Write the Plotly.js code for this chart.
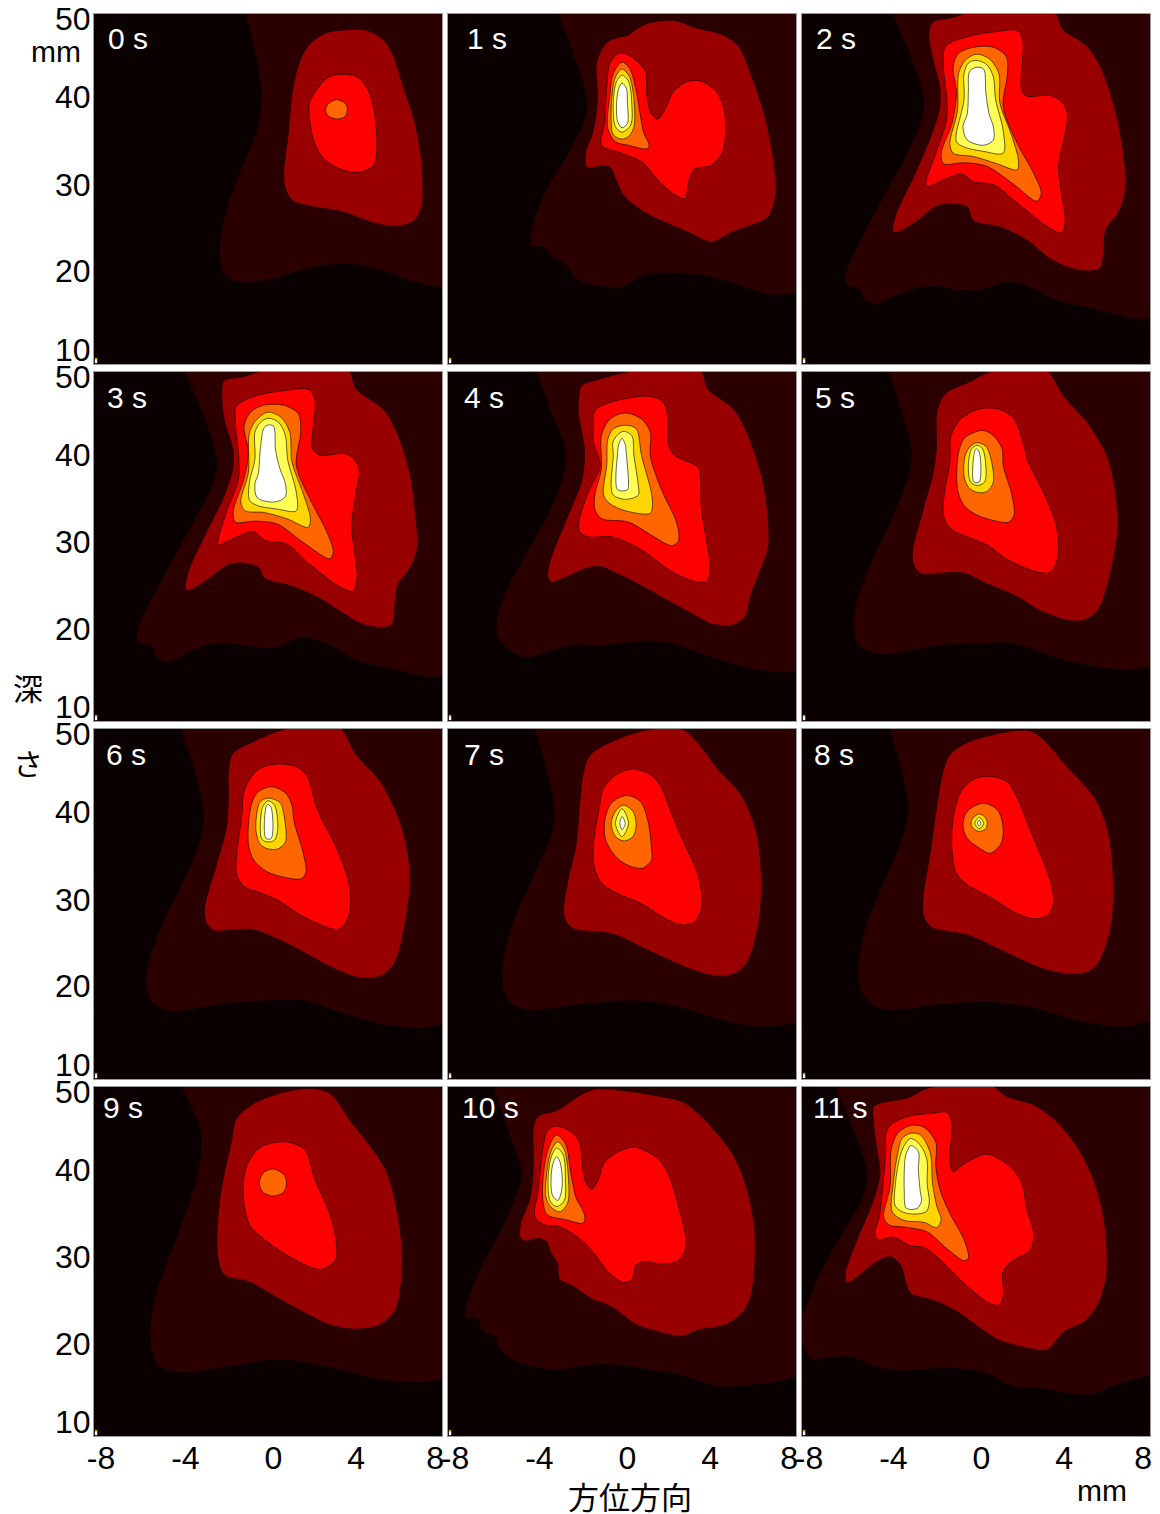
<!DOCTYPE html>
<html><head><meta charset="utf-8">
<script src="https://cdn.plot.ly/plotly-3.0.1.min.js"></script>
<style>html,body{margin:0;padding:0;background:#fff}</style></head>
<body><div id="chart" style="width:1160px;height:1514px"></div>
<script>
// contour outlines in mm (azimuth, depth)
const t0_L1=[[-1,50],[-.5,44.7],[-.3,40.1],[-.5,36.7],[-1.3,31.8],[-1.9,27.6],[-2.2,23.8],[-2.1,20.7],[-1.75,19.7],[-1,19.3],[.25,19.8],[1.8,20.9],[3.5,21.5],[5,20.9],[6.5,19.6],[8,18.7],[8.6,18.5],[9.5,30],[9.5,52],[-1.2,52]];
const t0_L2=[[3.5,48.1],[4.5,48.1],[5.3,47],[5.7,45.5],[6.2,41.7],[6.7,37.9],[7,34.1],[7.1,30.2],[7.05,28],[6.7,26.4],[5.9,25.8],[4.85,26.2],[3.3,27.5],[1.9,28.1],[1.15,28.7],[.8,30.2],[.75,32.1],[.95,36.3],[1.15,41.3],[1.5,44.7],[1.95,46.6],[2.7,47.8]];
const t0_L3=[[3.4,43.1],[4.1,42.8],[4.6,41.3],[4.9,38.6],[5,34.4],[4.85,32.7],[4.15,31.9],[3.3,32.3],[2.55,33.5],[2.15,35.2],[1.95,37.3],[1.9,39.8],[2.4,41.9],[2.8,42.8]];
const t0_L4=[[3.15,40.2],[3.55,39.8],[3.65,39.1],[3.55,38.3],[3.15,38],[2.75,38.4],[2.65,39.1],[2.8,39.8]];

const t1_L1=[[-2.9,50],[-2.3,45.9],[-1.7,41.5],[-1.6,39],[-2.3,34.8],[-3.4,30.3],[-4.1,25.7],[-4.15,23.6],[-3.55,23.4],[-3.15,22.1],[-2.7,21.7],[-2.1,19.8],[-1.25,19],[0,18.8],[1.05,20.2],[2.6,20.4],[4.1,20],[5.65,18.8],[6.9,17.9],[8,18.1],[8.6,18.2],[9.5,30],[9.5,52],[-3.1,52]];
const t1_L2=[[1.6,49.1],[2.45,49.2],[3.35,48.4],[4.6,47.6],[5.35,46.3],[5.95,42.8],[6.55,38.3],[6.95,33.3],[7.05,29.5],[6.7,26.8],[5.95,25.9],[5.05,25.1],[4.1,24],[3.05,25.1],[1.65,26.6],[.9,27.6],[.15,29.1],[-.25,31],[-.5,32.4],[-.8,32.7],[-1.6,32.5],[-1.65,34.1],[-1.3,36.7],[-1.1,40.6],[-1.15,44.4],[-.65,46.8],[.3,47.6],[.9,48.6]];
const t1_L3=[[-.15,45.5],[.3,45.3],[1.05,43.6],[1.15,40.6],[1.35,38.6],[1.65,38],[2,39.2],[2.35,41.1],[3.05,42.3],[3.65,42.3],[4.35,41.1],[4.7,39],[4.75,36],[4.6,34.1],[4.1,32.7],[3.3,32.2],[3.05,30.6],[2.9,28.9],[2.6,29.1],[1.8,30.6],[.9,33.1],[-.15,34.2],[-.95,35],[-.8,37.5],[-.7,41.7],[-.55,44.4]];
const t1_L4=[[0,44.5],[.35,43.8],[.65,41.3],[.85,38.3],[1,36.4],[1.25,35],[1.15,34.6],[.3,35],[-.3,35.4],[-.65,36.9],[-.55,40.9],[-.4,43.2]];
const t1_L5=[[0,43.7],[.35,42.8],[.55,40.2],[.55,37.1],[.3,36],[0,35.7],[-.4,36.2],[-.5,37.9],[-.45,40.9],[-.3,42.8]];
const t1_L6=[[0,43],[.3,42.3],[.45,39.8],[.4,37.3],[0,36.5],[-.3,37.1],[-.4,39.8],[-.25,42.3]];
const t1_L7=[[0,42.1],[.2,41.5],[.25,39.8],[.25,37.5],[0,37],[-.2,37.7],[-.25,39.8],[-.15,41.5]];

const t2_L1=[[-3.8,50],[-3,45.1],[-2.4,40.6],[-2.5,37.9],[-3.15,34.1],[-4.4,28.4],[-5.45,23.4],[-6,20],[-5.9,19],[-5.3,18.5],[-5.1,17.3],[-4.55,16.9],[-3.65,17.9],[-2.85,18.6],[-1.95,18.9],[-.85,18.5],[.2,18.5],[1.4,19.4],[2.5,18.8],[3.7,17.3],[5.7,16.2],[7.55,15.1],[8,15.4],[8.6,15.6],[9.5,30],[9.5,52],[-4,52]];
const t2_L2=[[-1.95,49.1],[-1.2,49.5],[0,50.3],[3.5,50.5],[4,48.2],[5.1,46.3],[5.7,44],[6.3,39.8],[6.7,35.2],[6.85,31.8],[6.8,29.1],[6.5,27.2],[5.95,25.3],[5.85,22.6],[5.65,20.9],[4.5,20.9],[3.4,22.1],[2.35,24.2],[1.1,25.7],[-.1,26.4],[-.4,28],[-1.7,28.2],[-2.7,26.4],[-3.5,25.2],[-3.8,25.1],[-3.7,26.8],[-2.7,32.2],[-1.95,36.7],[-1.65,39.4],[-1.65,41.7],[-1.95,44.7],[-2.15,47.8]];
const t2_L3=[[-1.4,46.3],[-.4,47.4],[.95,48],[1.9,48.1],[2.15,47],[2.1,41.3],[2.35,40.6],[3.4,40.7],[4,39.8],[4.2,38.6],[4.1,36.4],[3.8,32.6],[3.95,29.1],[4.1,26.5],[3.95,25],[3.4,25.5],[1.9,28.4],[.8,30.5],[-.1,30.8],[-.65,31.7],[-1.35,31.2],[-2.25,30.3],[-2.3,30.8],[-1.8,34.4],[-1.35,37.9],[-1.35,40.6],[-1.5,44]];
const t2_L4=[[-.1,46.2],[.8,46.2],[1.4,45.1],[1.45,43.2],[1.25,39.4],[1.9,35.2],[2.65,31.8],[3,29.5],[2.8,28.6],[1.75,30.5],[.5,32.6],[-.55,33],[-1.5,32.9],[-1.6,34.1],[-1.1,37.5],[-.9,40.9],[-1.05,44],[-.8,45.5]];
const t2_L5=[[0,45.4],[.6,44.9],[1.05,43.2],[1.1,39.8],[1.6,36.4],[1.95,33.3],[1.9,32.2],[.95,32.9],[-.1,33.7],[-1.05,34.1],[-1.2,35.2],[-.85,39],[-.8,43.2],[-.5,44.7]];
const t2_L6=[[0,44.7],[.5,44.2],[.8,42.8],[.9,40.2],[1.25,36.7],[1.25,34.1],[.35,34.3],[-.55,34.8],[-.9,35.4],[-.9,36.4],[-.55,40.2],[-.55,43.2],[-.35,44.4]];
const t2_L7=[[0,43.9],[.35,43.7],[.45,41.1],[.6,38.6],[.8,37.1],[.8,35.6],[.35,35],[-.4,35.6],[-.6,37.1],[-.4,38.6],[-.35,41.3],[-.3,43.4]];

const t3_L1=[[-3.8,50],[-2.95,45],[-2.35,40],[-2.5,37.4],[-3.25,33.6],[-4.5,27.9],[-5.5,23.3],[-6,20.3],[-5.95,19.1],[-5.35,18.6],[-5.1,17.3],[-4.6,16.8],[-3.6,18],[-2.8,18.7],[-2,18.9],[-.85,18.6],[.25,18.4],[1.6,19.6],[2.85,18.7],[4.05,17],[5.9,15.9],[7.65,15],[8,15.3],[8.6,15.5],[9.5,30],[9.5,52],[-4,52]];
const t3_L2=[[-2,49],[-1.15,49.4],[.1,50.3],[3.6,50.5],[4.05,48],[5.3,45.7],[5.9,43.1],[6.5,38.5],[6.75,33.9],[6.85,29.8],[6.5,27.5],[5.95,25.6],[5.8,22.9],[5.65,21],[4.5,21],[3.45,22.4],[2.4,24.1],[1,25.6],[-.15,26.4],[-.45,27.7],[-1.65,28.1],[-2.65,26.5],[-3.45,25.2],[-3.75,25.1],[-3.65,27.1],[-2.8,31.7],[-2.05,35.5],[-1.6,38.9],[-1.6,41.2],[-2,44.6],[-2.1,47.6]];
const t3_L3=[[-1.45,46.1],[-.5,47.3],[.85,47.9],[1.85,48],[2.15,46.9],[2.05,41.2],[2.35,40.5],[3.6,40.6],[4.05,39.7],[4.2,38.5],[4.05,36.2],[3.85,32.4],[4,29],[4.1,26.4],[3.9,24.9],[3.3,25.4],[1.95,27.9],[.85,30.3],[-.15,30.7],[-.65,31.7],[-1.45,31.1],[-2.3,30.2],[-2.3,30.7],[-1.9,34],[-1.35,37.8],[-1.35,40.4],[-1.5,44.2]];
const t3_L4=[[-.2,46.2],[.7,46.2],[1.4,45.2],[1.5,43.1],[1.3,39.3],[2,35.1],[2.7,31.7],[3,29.4],[2.85,28.6],[1.6,30.5],[.4,32.6],[-.65,32.9],[-1.5,32.8],[-1.6,34],[-1.1,37.8],[-.9,40.8],[-1.1,43.8],[-.8,45.4]];
const t3_L5=[[0,45.4],[.6,44.8],[1,43.1],[1.1,39.7],[1.6,36.2],[1.95,33.2],[1.85,32.2],[.85,33.2],[-.2,33.9],[-1.05,34.1],[-1.25,35.1],[-.9,38.5],[-.85,43.1],[-.5,44.6]];
const t3_L6=[[0,44.7],[.5,44.2],[.8,42.7],[.9,40],[1.3,36.2],[1.3,34.1],[.4,34.3],[-.5,34.7],[-.85,35.3],[-.85,37.4],[-.6,40],[-.6,43.1],[-.35,44.2]];
const t3_L7=[[-.05,43.9],[.25,43.8],[.35,41],[.55,38.9],[.8,37.2],[.8,35.7],[.3,35.1],[-.5,35.6],[-.6,37.2],[-.45,38.3],[-.35,41.2],[-.2,43.5]];

const t4_L1=[[-3.9,50],[-3.25,45.4],[-2.6,41.2],[-2.65,38.5],[-3.4,33.6],[-4.45,29],[-5.4,24.4],[-5.75,21.4],[-5.75,19.9],[-5.3,18.4],[-4.45,17.3],[-3.55,17.8],[-2.3,18.7],[-.8,18.7],[1.05,19.2],[2.3,18.9],[3.8,17.6],[5.65,16.2],[7.2,15.6],[8,15.7],[8.6,15.8],[9.5,30],[9.5,52],[-4.1,52]];
const t4_L2=[[-1.85,48.4],[-.95,49.2],[.6,50.1],[3.5,50.5],[3.95,48],[5.05,45.9],[5.65,43.5],[6.4,38.1],[6.7,33.2],[6.7,29.8],[6.25,26.7],[5.9,24.4],[5.65,22],[5.05,21],[4.1,21.2],[3.2,22.4],[1.65,24.5],[.15,26.5],[-1.1,27.8],[-1.7,27.5],[-2.6,26.5],[-3.25,26],[-3.4,26.7],[-3.25,28.6],[-2.45,33.6],[-1.85,37.4],[-1.7,40.8],[-2,45.7],[-1.95,47.3]];
const t4_L3=[[-1.25,45.6],[-.3,46.7],[1.35,47.2],[1.9,46.5],[2.1,45],[2.15,41.6],[2.45,40.4],[3.5,39.1],[3.6,38.1],[3.65,34.3],[3.9,30.5],[4.05,27.5],[3.9,26],[3.35,26],[2.3,27.1],[.9,29.6],[-.45,31.1],[-1.55,31.1],[-1.95,31.7],[-2,32.6],[-1.55,36.2],[-1,39.3],[-1.3,41.9],[-1.3,44.2]];
const t4_L4=[[.15,45.3],[.9,44.6],[1.3,43.1],[1.3,40.4],[1.8,36.6],[2.5,32.8],[2.6,30.7],[2.3,30.1],[1.35,31.3],[.3,32.8],[-.95,33.2],[-1.25,34.3],[-1.25,35.9],[-.95,38.9],[-.95,42.7],[-.55,44.6]];
const t4_L5=[[.15,43.9],[.65,43.5],[.9,40.4],[1.35,36.2],[1.4,34.7],[1.3,33.8],[.15,34.1],[-.55,34.9],[-.85,35.9],[-.7,39.3],[-.65,42.3],[-.4,43.5]];
const t4_L6=[[.05,43.2],[.45,42.7],[.55,40.4],[.75,37],[.75,35.9],[.15,35.4],[-.4,35.9],[-.5,37],[-.4,40.4],[-.4,42.1]];
const t4_L7=[[0,42.4],[.15,41.7],[.2,40.6],[.3,37],[.25,36.5],[-.2,36.5],[-.2,40.8],[-.15,41.7]];

const t5_L1=[[-4,50],[-3.4,45.4],[-2.95,40.8],[-3.1,38.1],[-3.8,33.6],[-4.85,27.9],[-5.55,22.9],[-5.6,20.6],[-5.4,18.7],[-4.7,17.8],[-3.9,17.7],[-1.95,18.6],[.05,18.9],[1.75,18.9],[3.55,17.4],[5.4,16.3],[6.95,15.9],[8,16.2],[8.6,16.4],[9.5,30],[9.5,52],[-4.2,52]];
const t5_L2=[[-1.65,46.5],[-1.35,47.6],[-.4,48.7],[.8,50.1],[3.1,50.5],[4.05,47.1],[5.1,44.2],[6,40.4],[6.4,36.2],[6.5,32.1],[6.3,28.6],[5.85,24.1],[5.5,22.5],[4.95,21.6],[4.2,21.6],[2.95,22.7],[1.75,24.5],[.5,25.8],[-.55,27],[-1.65,27],[-2.5,26.9],[-2.85,27.9],[-2.9,29.4],[-2.4,34.3],[-1.95,38.5],[-1.8,41.2],[-1.8,45]];
const t5_L3=[[.2,45.8],[1.1,45.7],[1.75,44.6],[2.2,41.6],[2.4,39.7],[3.1,36.2],[3.65,32.8],[3.8,30.1],[3.7,28.2],[3.35,27],[2.65,27.2],[1.4,28.6],[.5,30.2],[-.4,31.1],[-1.2,32.1],[-1.5,33.6],[-1.45,36.2],[-1.2,39.7],[-1.15,42.7],[-.7,44.6]];
const t5_L4=[[.3,43.3],[.8,42.7],[1.2,41.2],[1.25,39.3],[1.65,35.9],[1.75,33.6],[1.5,32.8],[.95,32.9],[.05,33.6],[-.55,34.7],[-.85,36.6],[-.8,40.8],[-.5,42.5]];
const t5_L5=[[.05,41.9],[.45,41.5],[.65,40.4],[.8,37.4],[.5,36.3],[.05,36.2],[-.35,36.8],[-.55,38.1],[-.5,40.4],[-.25,41.5]];
const t5_L6=[[.05,41.6],[.3,41.2],[.45,39.3],[.4,37.4],[.05,37],[-.25,37.4],[-.35,39.3],[-.2,41.2]];
const t5_L7=[[0,41.2],[.15,40.8],[.15,37.4],[-.1,37.4],[-.1,40.4]];

const t6_L1=[[-4,50],[-3.35,45.1],[-2.95,40.6],[-3.05,37.9],[-3.75,33.3],[-4.8,28],[-5.5,23.1],[-5.6,20.8],[-5.35,18.9],[-4.75,17.9],[-4.1,17.8],[-2.05,18.6],[.1,19],[1.6,19],[3.6,17.4],[5.45,16.2],[7,15.9],[8,16.2],[8.6,16.4],[9.5,30],[9.5,52],[-4.2,52]];
const t6_L2=[[-1.8,45.1],[-1.6,47.2],[-.5,48.7],[.85,50],[3.15,50.5],[4.05,47],[5.15,44],[6.05,39.4],[6.45,35.2],[6.5,31.8],[6.3,28],[5.85,23.5],[5.4,22.1],[4.85,21.6],[4.05,21.7],[2.85,22.9],[1.6,24.6],[.4,26.1],[-.65,27.1],[-1.6,27.1],[-2.45,27],[-2.8,27.8],[-2.9,29.4],[-2.35,34.5],[-1.9,38.7],[-1.8,42.1]];
const t6_L3=[[.55,46],[1.3,45.7],[1.8,44.6],[2.2,41.3],[2.45,39.8],[3.15,36.4],[3.7,32.6],[3.8,29.9],[3.6,28],[3.2,27.1],[2.55,27.5],[1.45,28.8],[.55,30.3],[-.35,31.3],[-1.1,32],[-1.45,33.5],[-1.4,36.4],[-1.2,40.2],[-1.1,42.9],[-.65,44.9],[-.2,45.7]];
const t6_L4=[[.15,43.4],[.8,42.7],[1.1,41.3],[1.2,39.4],[1.6,36],[1.75,33.7],[1.55,32.9],[.85,33],[-.05,33.7],[-.65,35],[-.9,36.8],[-.8,41],[-.5,42.7]];
const t6_L5=[[0,42.1],[.55,41.6],[.7,40.6],[.8,37.1],[.45,36.3],[0,36.3],[-.35,36.8],[-.55,38.3],[-.5,40.6],[-.35,41.7]];
const t6_L6=[[0,41.8],[.3,41.3],[.45,38.7],[.3,37.3],[-.05,37.1],[-.3,37.5],[-.3,40.6],[-.2,41.3]];
const t6_L7=[[0,41.4],[.15,41],[.15,37.5],[-.1,37.5],[-.1,41]];

const t7_L1=[[-4,50],[-3.45,45.1],[-3.1,40.6],[-3.25,37.9],[-4.05,33.3],[-5.1,27.2],[-5.5,22.3],[-5.4,20],[-5,18.5],[-4.2,17.9],[-2.1,18.5],[.6,19],[2.7,18.2],[4.8,16.6],[6.45,16],[8,16.4],[8.6,16.6],[9.5,30],[9.5,52],[-4.2,52]];
const t7_L2=[[-1.75,45.1],[-1.45,47],[-.4,48.6],[1.25,49.9],[2.8,49.9],[3.55,48.2],[4.35,45.5],[5.45,42.5],[6.15,38.3],[6.4,32.6],[6.25,27.6],[5.75,23.4],[5.2,22.1],[4.4,21.8],[3.15,22.6],[1.25,24.7],[-.4,26.6],[-2.3,27.3],[-2.65,28.7],[-2.5,32.2],[-2.1,36.7],[-1.9,42.1]];
const t7_L3=[[.4,45.4],[1.25,44.9],[1.75,43.6],[2.3,40.2],[2.9,36.7],[3.45,33.7],[3.65,31.4],[3.65,29.5],[3.35,28],[2.8,27.6],[2.1,28.2],[.85,30.1],[-.2,31.2],[-.95,32.4],[-1.3,34.5],[-1.3,37.1],[-1.05,40.9],[-.85,43.2],[-.3,44.7]];
const t7_L4=[[.2,42.4],[.85,41.7],[1.2,39.4],[1.35,36.4],[1.35,35],[.95,34.1],[.4,34.3],[-.2,35.2],[-.75,37.3],[-.8,39.4],[-.5,41.5]];
const t7_L5=[[.05,41.3],[.5,40.6],[.65,39],[.5,37.7],[.1,37.2],[-.3,37.7],[-.5,39.2],[-.3,40.6]];
const t7_L6=[[0,40.9],[.3,39.2],[0,37.7],[-.3,39.2]];
const t7_L7=[[0,40],[.15,39.2],[0,38.5],[-.1,39.2]];

const t8_L1=[[-3.95,50],[-3.4,45.1],[-3.1,40.6],[-3.4,37.5],[-4.2,32.6],[-5.05,27.6],[-5.4,22.6],[-5.25,20],[-4.75,18.5],[-3.9,17.9],[-1.85,18.5],[.45,18.8],[2.35,18.3],[4.85,16.6],[6.7,16],[8,16.6],[8.6,16.8],[9.5,30],[9.5,52],[-4.15,52]];
const t8_L2=[[-1.5,45.1],[-1.2,47],[-.4,48.4],[2.35,49.8],[3.05,48.9],[4.1,45.9],[5.45,42.1],[6.05,38.3],[6.3,32.6],[6.2,27.6],[5.65,23.4],[5.15,22.3],[4.4,22],[3.15,22.6],[1.3,24.6],[-.4,26.5],[-2.05,27.4],[-2.4,28.7],[-2.4,31],[-2.05,36.4],[-1.75,41.7]];
const t8_L3=[[.55,44.6],[1.4,44],[1.9,42.1],[2.45,38.7],[3.15,34.5],[3.5,31.9],[3.55,29.9],[3.25,28.7],[2.75,28.3],[1.9,28.9],[.65,30.8],[-.4,32.2],[-.9,33.5],[-1.1,36],[-1.05,39.8],[-.7,42.8],[-.15,44.2]];
const t8_L4=[[.35,41.5],[1,40.7],[1.25,38.6],[1.15,36.9],[.65,35.8],[.15,36.4],[-.4,37.5],[-.6,39],[-.4,40.6]];
const t8_L5=[[.15,40.3],[.5,39.6],[.45,38.6],[.1,38.3],[-.2,38.9],[-.2,39.6]];
const t8_L6=[[.15,39.9],[.35,39.2],[.15,38.6],[-.05,39.2]];
const t8_L7=[[.15,39.6],[.22,39.2],[.15,38.9],[.07,39.2]];

const t9_L1=[[-3.95,50],[-3.1,45.1],[-3.2,40.3],[-4.05,33.7],[-5.2,25.7],[-5.4,21.1],[-5.05,18.2],[-4.05,17.3],[-1.75,18],[.55,18.8],[2.85,17.9],[5.15,16.5],[7,16.2],[8,16.5],[8.6,16.7],[9.5,30],[9.5,52],[-4.15,52]];
const t9_L2=[[-1.65,43.9],[-1.45,46.3],[-.7,48],[.5,49.2],[1.95,49.8],[2.85,49.2],[3.75,46.2],[5.4,40.5],[6.05,33.7],[6.15,29.1],[5.85,24.5],[5.15,22.8],[4,22.3],[2.85,22.8],[1,25.1],[-.85,27.7],[-2,28.5],[-2.3,30.8],[-2.2,37.1],[-1.85,41.7]];
const t9_L3=[[.8,43.7],[1.7,42.8],[2.15,39.4],[2.85,35.4],[3.15,31.9],[3.1,30.2],[2.4,29.1],[1.25,30.2],[-.15,32.5],[-.85,34.2],[-1.15,38.2],[-.95,41.1],[-.35,43.1]];
const t9_L4=[[.25,40.6],[.75,39.9],[.85,38.9],[.7,37.9],[.2,37.5],[-.25,38],[-.4,39],[-.2,40.2]];

const t10_L1=[[-5.9,50],[-5.2,44.7],[-4.6,40.1],[-4.9,37.4],[-5.65,33.2],[-6.6,28.7],[-7.2,24.5],[-7.2,23.6],[-6.6,23.3],[-6.4,22],[-5.85,21.4],[-5.6,19.9],[-4.9,18.6],[-3.7,17.8],[-3.1,17.5],[-1.7,18.1],[-.3,18.2],[1.35,17.6],[2.9,16.9],[4.4,15.7],[5.65,15.8],[7.2,16.3],[8,16.8],[8.6,17],[9.5,30],[9.5,52],[-6.1,52]];
const t10_L2=[[-4.05,45.4],[-3.85,46.6],[-2.95,47.3],[-2,48.9],[-1.25,49.7],[.15,49.5],[1.65,48.9],[2.9,48.1],[4.1,45.4],[5.05,42.4],[5.65,39],[6.05,34.4],[6.1,30.6],[5.9,26],[5.5,24.1],[4.75,22.8],[3.5,22.2],[2.75,21.5],[1.65,22],[.6,22.9],[-.5,24.9],[-1.4,25.8],[-2.3,27.3],[-2.85,28],[-2.95,29.8],[-3.25,31],[-3.45,32.3],[-3.85,32.7],[-4.45,32.4],[-4.65,32.7],[-4.65,34.2],[-4.2,37.4],[-4.05,41.2]];
const t10_L3=[[-3.1,45.5],[-2.55,45.2],[-1.95,43.7],[-1.85,41.6],[-1.7,39.3],[-1.4,38.3],[-1.1,39.3],[-.8,41.4],[-.15,42.6],[.6,43.1],[1.65,41.8],[2.15,39.9],[2.6,36.3],[2.9,33.2],[2.9,31.3],[2.5,30],[1.8,29.7],[1.05,30],[.65,29.6],[.45,27.9],[.05,27.6],[-.65,28.9],[-1.4,31.3],[-2.1,32.9],[-2.9,34],[-3.55,34.2],[-4,35.1],[-3.85,38.2],[-3.6,43.5],[-3.45,44.9]];
const t10_L4=[[-3,44.5],[-2.6,43.5],[-2.35,40.1],[-2.1,37.2],[-1.85,36.1],[-1.7,35],[-1.8,34.4],[-2.6,34.8],[-3.45,35.4],[-3.65,37.4],[-3.55,41.2],[-3.3,43.5]];
const t10_L5=[[-2.95,43.7],[-2.65,42.8],[-2.45,39],[-2.5,36.7],[-2.85,35.7],[-3.25,36.2],[-3.5,37.4],[-3.4,41.2],[-3.2,43]];
const t10_L6=[[-3,43],[-2.7,42.2],[-2.6,39.3],[-2.65,37],[-3,36.3],[-3.3,36.9],[-3.4,39.3],[-3.25,42]];
const t10_L7=[[-3,42],[-2.85,41.4],[-2.75,38.6],[-2.95,37],[-3.2,37.6],[-3.25,40.1],[-3.15,41.4]];

const t11_L1=[[-6.45,50],[-5.75,45.8],[-5,40.1],[-5.25,37],[-6.05,33.6],[-7.15,28.7],[-8,23.9],[-8.6,22.5],[-8,20.7],[-7.55,18.8],[-6.85,19],[-5.8,19.1],[-4.55,18],[-3.5,17.5],[-2.25,17.7],[-.9,17.8],[.5,17.2],[1.75,15.7],[2.95,15.5],[4.65,14.8],[5.4,14.8],[6.5,15.9],[8,16.9],[8.6,17.1],[9.5,30],[9.5,52],[-6.6,52]];
const t11_L2=[[-4.7,47.7],[-4.4,48.1],[-3.15,48.7],[-2.25,49.8],[-1.2,50.2],[.65,50.2],[1.4,48.9],[2.65,47.9],[3.7,46],[4.65,43.1],[5.4,39.3],[5.85,35.1],[6,31.3],[5.95,27.9],[5.55,24.9],[4.95,23.1],[4.05,22],[3.25,19.9],[2.5,20.1],[1.1,21],[.2,22.4],[-.85,24.3],[-1.95,25.6],[-3,26.4],[-3.2,27.5],[-3.45,29.6],[-3.95,30.6],[-4.7,29.8],[-5.45,28.3],[-5.9,27.6],[-6,28.5],[-5.45,32.5],[-4.7,37],[-4.4,40.1],[-4.55,43.1],[-4.7,46.2]];
const t11_L3=[[-3.95,45.6],[-3.15,46.6],[-1.95,47],[-1.35,47.1],[-1.1,45.8],[-1.2,42],[-1.05,40.3],[-.55,41.2],[.5,42.3],[1.4,41.2],[2.05,39.3],[2.35,35.9],[2.65,33.2],[2.5,31.3],[1.75,30.2],[1.25,28.9],[1.25,26],[1.05,25],[.5,25.4],[-.55,27.5],[-1.65,30.2],[-2.4,31.6],[-3,31.8],[-3.8,32.8],[-4.5,32.5],[-4.65,33.2],[-4.45,35.1],[-4.3,38.2],[-4.15,42.8],[-4.15,44.5]];
const t11_L4=[[-3,45.6],[-2.4,45.4],[-1.85,43.7],[-1.85,40.9],[-1.65,38.2],[-1.2,35.5],[-.55,32.5],[-.35,30.4],[-.55,30.1],[-1.35,31.5],[-2.25,33.4],[-3.15,33.9],[-4,34.2],[-4.25,35.1],[-3.95,38.6],[-3.9,42.8],[-3.6,44.7]];
const t11_L5=[[-3,44.7],[-2.55,44.5],[-2.1,42.4],[-2,39],[-1.8,36.3],[-1.6,34.8],[-1.8,33.9],[-2.4,34.5],[-3.3,34.7],[-3.85,35.7],[-3.8,39],[-3.6,42.4],[-3.4,44.1]];
const t11_L6=[[-3,44.1],[-2.55,43.3],[-2.25,41.6],[-2.25,39],[-2.15,36.7],[-2.3,35.7],[-3.15,35.5],[-3.7,36.3],[-3.7,39],[-3.5,42],[-3.3,43.3]];
const t11_L7=[[-3,43.3],[-2.65,42.6],[-2.65,40.5],[-2.55,37.8],[-2.5,37],[-2.7,36.1],[-3.2,36.1],[-3.3,38.2],[-3.25,42],[-3.15,42.7]];

const panelContours=[
 [t0_L1,t0_L2,t0_L3,t0_L4],
 [t1_L1,t1_L2,t1_L3,t1_L4,t1_L5,t1_L6,t1_L7],
 [t2_L1,t2_L2,t2_L3,t2_L4,t2_L5,t2_L6,t2_L7],
 [t3_L1,t3_L2,t3_L3,t3_L4,t3_L5,t3_L6,t3_L7],
 [t4_L1,t4_L2,t4_L3,t4_L4,t4_L5,t4_L6,t4_L7],
 [t5_L1,t5_L2,t5_L3,t5_L4,t5_L5,t5_L6,t5_L7],
 [t6_L1,t6_L2,t6_L3,t6_L4,t6_L5,t6_L6,t6_L7],
 [t7_L1,t7_L2,t7_L3,t7_L4,t7_L5,t7_L6,t7_L7],
 [t8_L1,t8_L2,t8_L3,t8_L4,t8_L5,t8_L6,t8_L7],
 [t9_L1,t9_L2,t9_L3,t9_L4],
 [t10_L1,t10_L2,t10_L3,t10_L4,t10_L5,t10_L6,t10_L7],
 [t11_L1,t11_L2,t11_L3,t11_L4,t11_L5,t11_L6,t11_L7]
];
const timeLabels=["0 s","1 s","2 s","3 s","4 s","5 s","6 s","7 s","8 s","9 s","10 s","11 s"];
const timeLabelX=[-7.41,-7.18,-7.41,-7.45,-7.31,-7.45,-7.5,-7.31,-7.5,-7.65,-7.4,-7.55];
const timeLabelY=[47.2,47.2,47.2,47.1,47.1,47.1,47.1,47.1,47.1,47.7,47.7,47.7];
const levelColors=["#2b0000","#990000","#ff0000","#ff6600","#ffd500","#ffff55","#ffffff"];
const levelLineWidths=[0,0,0.6,0.6,0.6,0.6,0.6];
const backgroundColor="#0a0000";
const xTickPos=[-7.68,-3.8,0.25,4.05,7.68], xTickText=["-8","-4","0","4","8"];
const yTickPos=[49.4,40.5,30.5,20.6,11.6], yTickText=["50","40","30","20","10"];
const colPx=[[94,442],[448,796],[802,1150]];
const rowPx=[[14,364],[372,721],[729,1079],[1087,1436]];
const W=1160,H=1514,FONT='"Liberation Sans",Arial,sans-serif',CJK='"Noto Sans CJK JP",sans-serif';

const traces=[],layout={width:W,height:H,margin:{l:0,r:0,t:0,b:0},paper_bgcolor:"#fff",plot_bgcolor:backgroundColor,showlegend:false,annotations:[],shapes:[]};
panelContours.forEach((levels,i)=>{
  const c=i%3,r=Math.floor(i/3),sfx=i===0?"":String(i+1);
  levels.forEach((pts,k)=>{
    const xs=pts.map(p=>p[0]),ys=pts.map(p=>p[1]);
    xs.push(xs[0]);ys.push(ys[0]);
    traces.push({type:"scatter",mode:"lines",x:xs,y:ys,xaxis:"x"+sfx,yaxis:"y"+sfx,fill:"toself",fillcolor:levelColors[k],
      line:{shape:"spline",smoothing:0.9,color:"#000",width:levelLineWidths[k]},hoverinfo:"skip"});
  });
  layout["xaxis"+sfx]={domain:[colPx[c][0]/W,colPx[c][1]/W],range:[-8,8],anchor:"y"+sfx,showgrid:false,zeroline:false,showline:true,mirror:true,linecolor:"#9a9a9a",linewidth:1,ticks:"",ticklabelstandoff:-6,
    tickmode:"array",tickvals:r===3?xTickPos:[],ticktext:r===3?xTickText:[],tickangle:0,tickfont:{family:FONT,size:32,color:"#000"},fixedrange:true};
  layout["yaxis"+sfx]={domain:[1-rowPx[r][1]/H,1-rowPx[r][0]/H],range:[10,50],anchor:"x"+sfx,showgrid:false,zeroline:false,showline:true,mirror:true,linecolor:"#9a9a9a",linewidth:1,ticks:"",ticklabelstandoff:-4,
    tickmode:"array",tickvals:c===0?yTickPos:[],ticktext:c===0?yTickText:[],tickfont:{family:FONT,size:32,color:"#000"},fixedrange:true};
  layout.annotations.push({xref:"x"+sfx,yref:"y"+sfx,x:timeLabelX[i],y:timeLabelY[i],xanchor:"left",yanchor:"middle",text:timeLabels[i],showarrow:false,font:{family:FONT,size:30,color:"#fff"},borderpad:0});
  layout.shapes.push({type:"rect",xref:"x"+sfx,yref:"y"+sfx,x0:-7.96,x1:-7.85,y0:10.1,y1:10.55,fillcolor:"#ffffff",line:{width:0}});
  layout.shapes.push({type:"rect",xref:"x"+sfx,yref:"y"+sfx,x0:-7.96,x1:-7.85,y0:10.55,y1:10.7,fillcolor:"#d9a000",line:{width:0}});
});
const paperNotes=[
 {t:"mm",x:56,y:52,s:30,f:FONT},
 {t:"mm",x:1102,y:1490,s:30,f:FONT},
 {t:"方位方向",x:630,y:1495,s:31,f:CJK},
 {t:"深",x:28,y:687,s:30,f:CJK},
 {t:"さ",x:28,y:762,s:30,f:CJK}
];
paperNotes.forEach(n=>layout.annotations.push({xref:"paper",yref:"paper",x:n.x/W,y:1-n.y/H,xanchor:"center",yanchor:"middle",text:n.t,showarrow:false,font:{family:n.f,size:n.s,color:"#000"},borderpad:0}));
Plotly.newPlot("chart",traces,layout,{staticPlot:true,displayModeBar:false});
</script></body></html>
